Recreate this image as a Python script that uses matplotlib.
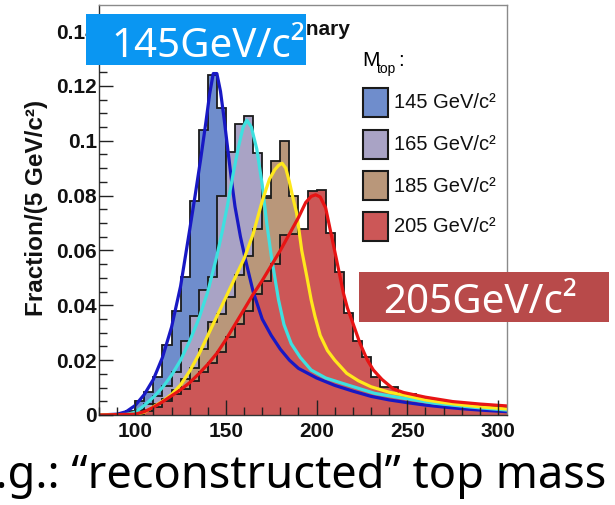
import numpy as np
import matplotlib
matplotlib.use("Agg")
import matplotlib.pyplot as plt
from matplotlib.patches import Rectangle

# ---------------- data ----------------
bin_lo, bin_hi, bin_w = 80, 305, 5

hist_145 = [0, 0, 0, 0.0015, 0.005, 0.0085, 0.014, 0.0255, 0.038, 0.0505, 0.078, 0.104, 0.124, 0.112,
            0.086, 0.066, 0.050, 0.041, 0.033, 0.027, 0.022, 0.019, 0.016, 0.014, 0.013, 0.011, 0.010,
            0.009, 0.008, 0.007, 0.0065, 0.006, 0.005, 0.0045, 0.004, 0.0037, 0.0033, 0.003, 0.0027,
            0.0024, 0.0022, 0.002, 0.0017, 0.0015, 0.0013]
hist_165 = [0, 0, 0, 0.001, 0.002, 0.004, 0.007, 0.0105, 0.0155, 0.027, 0.036, 0.0456, 0.0505, 0.080,
            0.096, 0.106, 0.109, 0.0955, 0.080, 0.055, 0.040, 0.030, 0.024, 0.020, 0.017, 0.015, 0.013,
            0.012, 0.011, 0.0095, 0.0085, 0.0078, 0.007, 0.0063, 0.0057, 0.005, 0.0045, 0.004, 0.0037,
            0.0033, 0.003, 0.0027, 0.0024, 0.0021, 0.0019]
hist_185 = [0, 0, 0, 0, 0.0005, 0.002, 0.004, 0.006, 0.009, 0.013, 0.017, 0.024, 0.034, 0.037,
            0.043, 0.051, 0.058, 0.068, 0.079, 0.0925, 0.0998, 0.0797, 0.062, 0.045, 0.032, 0.025, 0.020,
            0.0165, 0.014, 0.012, 0.0105, 0.0095, 0.0085, 0.0075, 0.0068, 0.006, 0.0055, 0.005, 0.0045,
            0.0041, 0.0037, 0.0034, 0.003, 0.0028, 0.0025]
hist_205 = [0, 0, 0, 0, 0.0005, 0.0015, 0.003, 0.005, 0.0075, 0.0095, 0.0125, 0.0155, 0.019, 0.023,
            0.0285, 0.033, 0.038, 0.044, 0.049, 0.055, 0.0657, 0.066, 0.068, 0.0815, 0.0821, 0.0663, 0.052,
            0.0372, 0.027, 0.0213, 0.014, 0.0103, 0.0103, 0.0075, 0.0075, 0.0058, 0.0052, 0.0047, 0.0043,
            0.004, 0.0037, 0.0034, 0.0031, 0.0029, 0.0027]

fit_145_m = [80, 90, 95, 100, 105, 110, 115, 120, 125, 130, 133, 136, 139, 141, 143, 145, 147, 149, 151,
             153, 155, 158, 161, 165, 170, 175, 180, 185, 190, 200, 210, 220, 230, 240, 250, 260, 270,
             280, 290, 305]
fit_145_v = [0, 0.0003, 0.0012, 0.0035, 0.0075, 0.013, 0.021, 0.032, 0.047, 0.0675, 0.080, 0.093, 0.107,
             0.117, 0.1245, 0.1245, 0.118, 0.108, 0.097, 0.086, 0.076, 0.065, 0.056, 0.045, 0.035, 0.029,
             0.0240, 0.0200, 0.0170, 0.0135, 0.0108, 0.0087, 0.0068, 0.0055, 0.0045, 0.0036, 0.0029,
             0.0023, 0.0018, 0.0012]

fit_165_m = [80, 95, 100, 105, 110, 115, 120, 125, 130, 135, 140, 145, 148, 151, 154, 157, 159.5, 161.5,
             164, 167, 170, 172.5, 175, 179, 182, 186, 191, 197, 205, 214, 232, 248, 265, 285, 305]
fit_165_v = [0, 0.0002, 0.001, 0.0035, 0.0065, 0.010, 0.0145, 0.020, 0.027, 0.035, 0.045, 0.058, 0.067,
             0.077, 0.088, 0.098, 0.105, 0.1075, 0.105, 0.097, 0.084, 0.070, 0.058, 0.042, 0.033, 0.026,
             0.021, 0.0164, 0.0135, 0.0116, 0.0079, 0.0061, 0.0043, 0.0029, 0.0018]

fit_185_m = [80, 100, 105, 110, 115, 120, 125, 130, 135, 140, 145, 150, 155, 160, 165, 170, 174, 177, 179,
             181, 183, 185, 187, 189, 191.8, 194.6, 197, 199.1, 202, 206, 210, 216.6, 223, 230, 240, 248,
             260, 270, 280, 290, 305]
fit_185_v = [0, 0.0002, 0.001, 0.003, 0.005, 0.0075, 0.011, 0.016, 0.022, 0.029, 0.036, 0.043, 0.050,
             0.057, 0.066, 0.078, 0.086, 0.0895, 0.091, 0.0918, 0.090, 0.085, 0.079, 0.0736, 0.060, 0.0505,
             0.042, 0.036, 0.029, 0.0235, 0.020, 0.0152, 0.0125, 0.0103, 0.0083, 0.0073, 0.0055, 0.0045,
             0.0037, 0.0030, 0.0022]

fit_205_m = [80, 100, 105, 110, 115, 120, 125, 130, 135, 140, 145, 150, 155, 160, 165, 170, 175, 180, 185,
             190, 194, 197, 199.5, 202, 205, 208, 211, 214.8, 217, 220, 224, 228, 231.3, 236, 242.3, 248,
             260, 275, 290, 305]
fit_205_v = [0, 0.0003, 0.0012, 0.0028, 0.0048, 0.007, 0.0092, 0.0118, 0.015, 0.0185, 0.0225, 0.0275,
             0.033, 0.0385, 0.044, 0.049, 0.0545, 0.060, 0.066, 0.072, 0.0775, 0.0797, 0.0803, 0.0795,
             0.0755, 0.066, 0.0566, 0.0444, 0.039, 0.0335, 0.026, 0.020, 0.0164, 0.013, 0.0095, 0.0082,
             0.0065, 0.0049, 0.0040, 0.0033]

legend_labels = ["145 GeV/c²", "165 GeV/c²", "185 GeV/c²", "205 GeV/c²"]
ytick_vals = [0, 0.02, 0.04, 0.06, 0.08, 0.10, 0.12, 0.14]
ytick_labels = ["0", "0.02", "0.04", "0.06", "0.08", "0.1", "0.12", "0.14"]
xtick_vals = [100, 150, 200, 250, 300]

# ---------------- style ----------------
fill_cols = ["#6f8dcc", "#a9a3c5", "#b9977a", "#cc5757"]
line_cols = ["#1818c4", "#3ee0e0", "#ffe81c", "#e81414"]

W, H = 615, 505
fig = plt.figure(figsize=(W / 100, H / 100), dpi=100)
fig.patch.set_facecolor("white")

def fx(x):
    return x / W

def fy(y):
    return 1 - y / H

ax_l, ax_r, ax_t, ax_b = 99, 507, 5, 415
ax = fig.add_axes([fx(ax_l), fy(ax_b), fx(ax_r) - fx(ax_l), fy(ax_t) - fy(ax_b)])
ax.set_xlim(bin_lo, bin_hi)
ax.set_ylim(0, 0.1495)

edges = np.arange(bin_lo, bin_hi + bin_w / 2, bin_w)
hists = [hist_145, hist_165, hist_185, hist_205]
fits = [(fit_145_m, fit_145_v), (fit_165_m, fit_165_v), (fit_185_m, fit_185_v), (fit_205_m, fit_205_v)]

z = 1.0
for vals, col in zip(hists, fill_cols):
    ax.stairs(vals, edges, fill=True, facecolor=col, edgecolor="none", lw=0, zorder=z)
    ax.stairs(vals, edges, fill=False, color="#1a1a1a", lw=1.3, baseline=None, zorder=z + 0.01)
    z += 0.1

for (m, v), col in zip(fits, line_cols):
    ax.plot(m, v, color=col, lw=2.3, solid_capstyle="round", solid_joinstyle="round", zorder=2)

ax.set_axisbelow(False)
ax.set_yticks(ytick_vals)
ax.set_yticklabels(ytick_labels)
ax.set_xticks(xtick_vals)
ax.set_xticks(np.arange(80, 306, 10), minor=True)
ax.set_yticks(np.arange(0, 0.146, 0.005), minor=True)
ax.tick_params(axis="both", which="both", direction="in", colors="#222222")
ax.tick_params(axis="y", which="major", length=10, width=1.0, pad=1.5, left=True, right=False)
ax.tick_params(axis="y", which="minor", length=5.5, width=1.0, left=True, right=False)
ax.tick_params(axis="x", which="major", length=11, width=1.0, pad=5, bottom=True, top=False)
ax.tick_params(axis="x", which="minor", length=6, width=1.0, bottom=True, top=False)
for lab in ax.get_xticklabels() + ax.get_yticklabels():
    lab.set_fontfamily("Liberation Sans")
    lab.set_fontweight("bold")
    lab.set_fontsize(15)
    lab.set_color("#111111")

ax.spines["left"].set_color("#333333")
ax.spines["bottom"].set_color("#333333")
ax.spines["top"].set_color("#8a8a8a")
ax.spines["right"].set_color("#8a8a8a")
for s in ax.spines.values():
    s.set_linewidth(1.0)

# y label
fig.text(fx(37), fy(208), "Fraction/(5 GeV/c²)", rotation=90, ha="center", va="center",
         fontsize=17.5, fontweight="bold", family="Liberation Sans", color="#111111")

# preliminary text (mostly hidden)
fig.text(fx(350), fy(35), "CDF Run II Preliminary", ha="right", va="baseline",
         fontsize=15, fontweight="bold", family="Liberation Sans", color="#111111")

# legend
fig.text(fx(362), fy(66), "M", ha="left", va="baseline", fontsize=15, family="Liberation Sans")
fig.text(fx(377), fy(73), "top", ha="left", va="baseline", fontsize=10, family="Liberation Sans")
fig.text(fx(398), fy(66), ":", ha="left", va="baseline", fontsize=15, family="Liberation Sans")
box_tops = [88, 130, 171, 212]
for top, col, lab in zip(box_tops, fill_cols, legend_labels):
    fig.patches.append(Rectangle((fx(363), fy(top + 29)), fx(25), 29 / H, transform=fig.transFigure,
                                 facecolor=col, edgecolor="#1a1a1a", lw=1.5, zorder=5))
    fig.text(fx(394), fy(top + 15), lab, ha="left", va="center", fontsize=14.5,
             family="Liberation Sans", color="#111111")

# blue label box
fig.patches.append(Rectangle((fx(86), fy(65)), fx(220), 51 / H, transform=fig.transFigure,
                             facecolor="#0a96f2", edgecolor="none", zorder=10))
fig.text(fx(111), fy(57), "145GeV/c²", ha="left", va="baseline", fontsize=29,
         family="Noto Sans", color="white", zorder=11)

# red label box
fig.patches.append(Rectangle((fx(359), fy(322)), fx(250), 50 / H, transform=fig.transFigure,
                             facecolor="#b84a4a", edgecolor="none", zorder=10))
fig.text(fx(383), fy(313), "205GeV/c²", ha="left", va="baseline", fontsize=29,
         family="Noto Sans", color="white", zorder=11)

# bottom slide text
fig.text(fx(606), fy(488), "e.g.: “reconstructed” top mass", ha="right", va="baseline",
         fontsize=32.5, family="Noto Sans", color="black")

fig.savefig("out.png", dpi=100, facecolor="white")
